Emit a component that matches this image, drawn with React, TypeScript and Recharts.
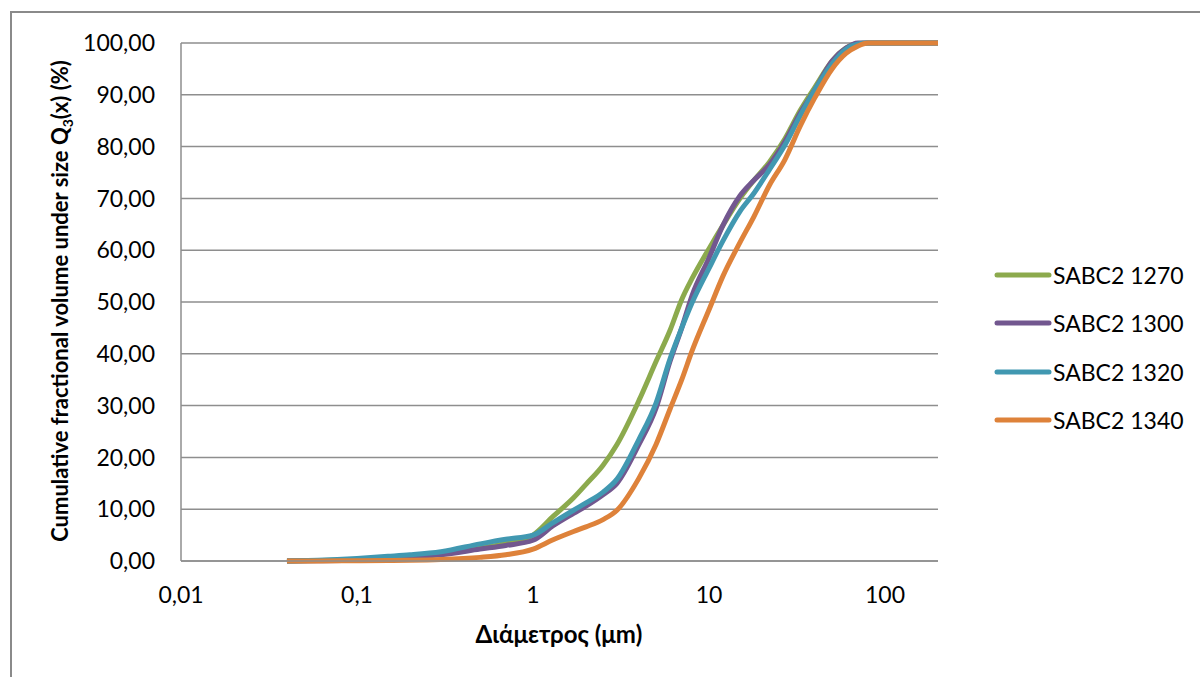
import { LineChart, Line, XAxis, YAxis, CartesianGrid } from "recharts";

// particle size (µm) and cumulative volume Q3(x) (%) per sample
const diameters = [0.04, 0.06, 0.1, 0.15, 0.2, 0.3, 0.5, 0.7, 1, 1.3, 1.7, 2, 2.5, 3, 4, 5, 6, 7, 8, 10, 12, 15, 18, 22, 27, 33, 40, 50, 60, 70, 80, 100, 150, 200];
const sabc1270 = [0, 0.1, 0.3, 0.6, 0.9, 1.4, 2.5, 3.4, 5.0, 8.6, 12.2, 14.8, 18.5, 22.5, 31, 38.5, 44.5, 50.5, 54.5, 60.3, 64.8, 70, 73.5, 77, 81.5, 87, 91.5, 96.5, 99, 99.9, 100, 100, 100, 100];
const sabc1300 = [0, 0.05, 0.2, 0.5, 0.8, 1.2, 2.3, 3.0, 4.0, 6.8, 9.2, 10.6, 12.8, 15.0, 22.5, 29.5, 38.5, 45, 51.2, 58.5, 64.8, 70.5, 73.5, 76.5, 81, 86.5, 91, 96.5, 99, 100, 100, 100, 100, 100];
const sabc1320 = [0, 0.15, 0.5, 0.9, 1.2, 1.8, 3.3, 4.2, 5.0, 7.4, 9.8, 11.2, 13.3, 15.8, 23.5, 30.5, 39, 45, 49.8, 56.5, 61.8, 67.5, 71, 75.5, 80.3, 86, 91, 96, 98.8, 99.8, 100, 100, 100, 100];
const sabc1340 = [0, 0, 0.05, 0.1, 0.15, 0.3, 0.7, 1.2, 2.3, 4.1, 5.7, 6.6, 8.0, 9.8, 16, 22.5, 29.3, 35, 40.5, 48.5, 55, 61.5, 66.5, 72.5, 77.5, 84, 89.5, 95, 98, 99.4, 100, 100, 100, 100];

const xTicks = [0.01, 0.1, 1, 10, 100];
const yTicks = [0, 10, 20, 30, 40, 50, 60, 70, 80, 90, 100];

const series = [
  { key: "SABC2 1270", values: sabc1270, color: "#8CAA4D" },
  { key: "SABC2 1300", values: sabc1300, color: "#72578F" },
  { key: "SABC2 1320", values: sabc1320, color: "#4198B1" },
  { key: "SABC2 1340", values: sabc1340, color: "#DE823A" },
];

const rows = diameters.map((d, i) => {
  const row: Record<string, number> = { d };
  series.forEach((s) => (row[s.key] = s.values[i]));
  return row;
});

const FONT = "Lato, 'Open Sans', sans-serif";

function YTitle() {
  const cx = 68, cy = 301;
  return (
    <text x={cx} y={cy} transform={`rotate(-90, ${cx}, ${cy})`} textAnchor="middle"
      fontFamily={FONT} fontWeight="bold" fontSize={22} fill="#000">
      Cumulative fractional volume under size Q<tspan fontSize={14} dy={5}>3</tspan><tspan dy={-5}>(x) (%)</tspan>
    </text>
  );
}

function XTitle() {
  return (
    <text x={559} y={643} textAnchor="middle" fontFamily={FONT} fontWeight="bold" fontSize={24} fill="#000">
      Διάμετρος (μm)
    </text>
  );
}

function LegendBox() {
  return (
    <div style={{ position: "absolute", left: 993, top: 251, fontFamily: FONT, fontSize: 23, color: "#000" }}>
      {series.map((s) => (
        <div key={s.key} style={{ display: "flex", alignItems: "center", height: 48.3 }}>
          <svg width={60} height={10}>
            <line x1={4} y1={5} x2={56} y2={5} stroke={s.color} strokeWidth={5} strokeLinecap="round" />
          </svg>
          <span style={{ whiteSpace: "nowrap" }}>{s.key}</span>
        </div>
      ))}
    </div>
  );
}

export default function App() {
  return (
    <div style={{ position: "absolute", left: 0, top: 0, width: 1200, height: 677, background: "#fff", overflow: "hidden" }}>
      <div style={{ position: "absolute", left: 10, top: 11, width: 1300, height: 800, border: "2px solid #8a8a8a" }} />
      <LineChart width={1200} height={677} data={rows} margin={{ top: 43, right: 262, left: 0, bottom: 0 }}
        style={{ position: "absolute", left: 0, top: 0 }}>
        <CartesianGrid vertical={false} stroke="#8e8e8e" strokeWidth={1.5} />
        <XAxis dataKey="d" type="number" scale="log" domain={[0.01, 200]} allowDataOverflow ticks={xTicks}
          tickFormatter={(v: number) => String(v).replace(".", ",")}
          height={116} tickLine={false} tickSize={0} tickMargin={26}
          axisLine={{ stroke: "#8e8e8e", strokeWidth: 1.5 }}
          tick={{ fontFamily: FONT, fontSize: 23, fill: "#000" }}
          label={{ content: () => <XTitle /> }} />
        <YAxis type="number" domain={[0, 100]} ticks={yTicks} width={181}
          tickFormatter={(v: number) => v.toFixed(2).replace(".", ",")}
          tickLine={false} tickSize={0} tickMargin={26}
          axisLine={{ stroke: "#8e8e8e", strokeWidth: 1.5 }}
          tick={{ fontFamily: FONT, fontSize: 23, fill: "#000" }}
          label={{ content: () => <YTitle /> }} />
        {series.map((s) => (
          <Line key={s.key} dataKey={s.key} name={s.key} type="monotone" stroke={s.color}
            strokeWidth={5} dot={false} isAnimationActive={false} />
        ))}
      </LineChart>
      <LegendBox />
    </div>
  );
}
